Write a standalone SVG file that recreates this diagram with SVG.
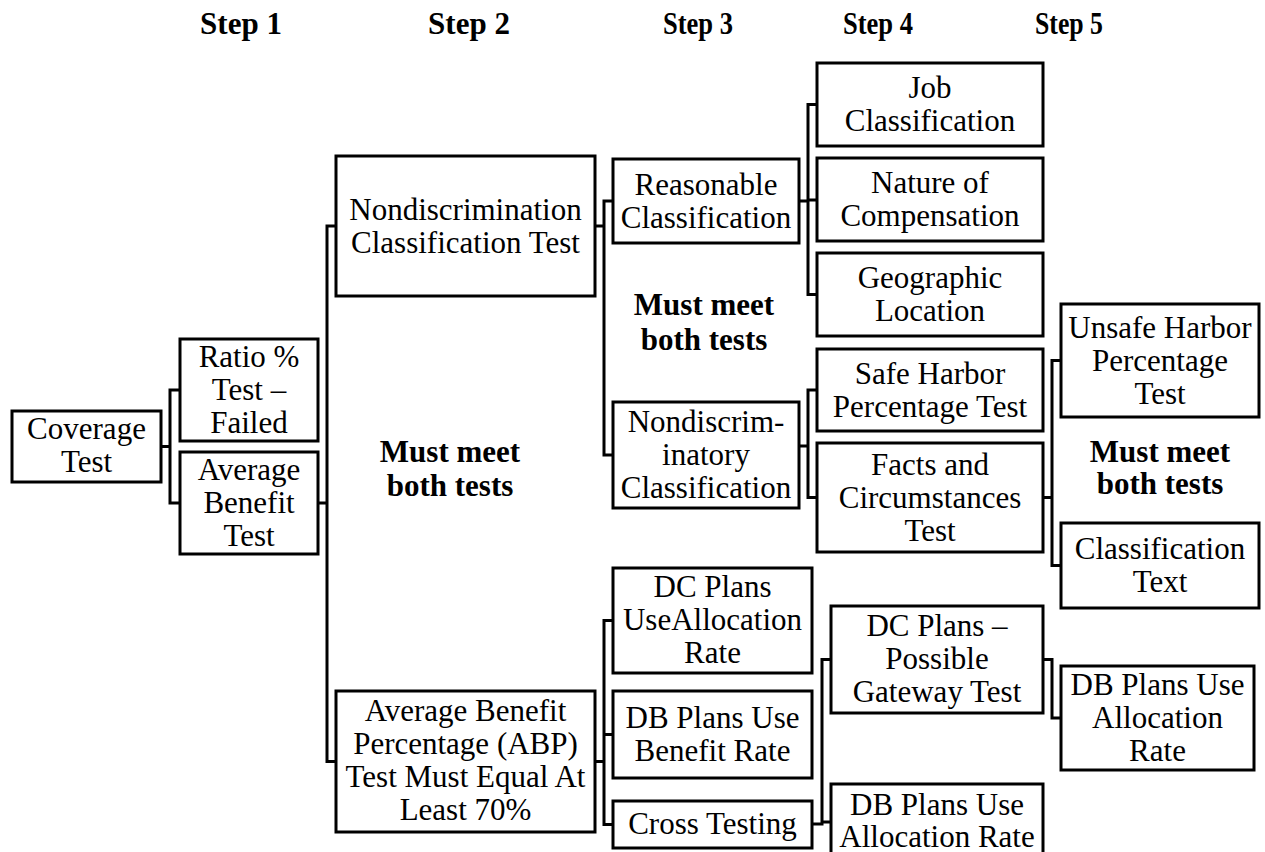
<svg xmlns="http://www.w3.org/2000/svg" width="1265" height="852" viewBox="0 0 1265 852">
  <style>
    .box { fill: #ffffff; stroke: #000000; stroke-width: 3; }
    .lbl { font-family: "Liberation Serif", "Times New Roman", serif; font-size: 31px; fill: #000000; text-anchor: middle; }
    .bold { font-family: "Liberation Serif", "Times New Roman", serif; font-size: 31px; font-weight: bold; fill: #000000; text-anchor: middle; }
    .wire { fill: none; stroke: #000000; stroke-width: 3; stroke-linejoin: miter; stroke-linecap: square; }
  </style>
  <rect width="1265" height="852" fill="#ffffff"/>

  <!-- column headings -->
  <g id="headings">
    <text class="bold" x="241" y="34">Step 1</text>
    <text class="bold" x="469" y="34">Step 2</text>
    <text class="bold" x="698" y="34" textLength="70" lengthAdjust="spacingAndGlyphs">Step 3</text>
    <text class="bold" x="878" y="34" textLength="70" lengthAdjust="spacingAndGlyphs">Step 4</text>
    <text class="bold" x="1069" y="34" textLength="68" lengthAdjust="spacingAndGlyphs">Step 5</text>
  </g>

  <!-- connectors (bracket style) -->
  <g id="connectors" class="wire">
    <path d="M161,446.5 H170 M180,390 H170 V503 H180"/>
    <path d="M318,503 H327 M336,226 H327 V761.5 H336"/>
    <path d="M595,226 H604 M613,201 H604 V455 H613"/>
    <path d="M799,201 H808 M817,104.5 H808 V294.5 H817 M808,200 H817"/>
    <path d="M799,446 H808 M817,390 H808 V497.5 H817"/>
    <path d="M1043,497.5 H1052 M1061,360.5 H1052 V565.5 H1061"/>
    <path d="M595,761.5 H604 M613,620.5 H604 V824.5 H613 M604,734.5 H613"/>
    <path d="M812,824 H822 M831,659.5 H822 V822 H831"/>
    <path d="M1043,659.5 H1052 V718 H1061"/>
  </g>

  <!-- Step 1 -->
  <g id="coverage-test">
    <rect class="box" x="12" y="411" width="149" height="71"/>
    <text class="lbl" x="86.5" y="439">Coverage</text>
    <text class="lbl" x="86.5" y="472">Test</text>
  </g>
  <g id="ratio-test">
    <rect class="box" x="180" y="339" width="138" height="102"/>
    <text class="lbl" x="249" y="367">Ratio %</text>
    <text class="lbl" x="249" y="400">Test –</text>
    <text class="lbl" x="249" y="433">Failed</text>
  </g>
  <g id="average-benefit-test">
    <rect class="box" x="180" y="452" width="138" height="102"/>
    <text class="lbl" x="249" y="480">Average</text>
    <text class="lbl" x="249" y="513">Benefit</text>
    <text class="lbl" x="249" y="546">Test</text>
  </g>

  <!-- Step 2 -->
  <g id="nondiscrimination-classification-test">
    <rect class="box" x="336" y="156" width="259" height="140"/>
    <text class="lbl" x="465.5" y="219.5">Nondiscrimination</text>
    <text class="lbl" x="465.5" y="252.5">Classification Test</text>
  </g>
  <g id="step2-note">
    <text class="bold" x="450" y="462">Must meet</text>
    <text class="bold" x="450" y="496">both tests</text>
  </g>
  <g id="abp-test">
    <rect class="box" x="336" y="691" width="259" height="141"/>
    <text class="lbl" x="465.5" y="721">Average Benefit</text>
    <text class="lbl" x="465.5" y="754">Percentage (ABP)</text>
    <text class="lbl" x="465.5" y="787">Test Must Equal At</text>
    <text class="lbl" x="465.5" y="820">Least 70%</text>
  </g>

  <!-- Step 3 -->
  <g id="reasonable-classification">
    <rect class="box" x="613" y="159" width="186" height="84"/>
    <text class="lbl" x="706" y="195">Reasonable</text>
    <text class="lbl" x="706" y="228">Classification</text>
  </g>
  <g id="step3-note">
    <text class="bold" x="704" y="315">Must meet</text>
    <text class="bold" x="704" y="350">both tests</text>
  </g>
  <g id="nondiscriminatory-classification">
    <rect class="box" x="613" y="402" width="186" height="106"/>
    <text class="lbl" x="706" y="432">Nondiscrim-</text>
    <text class="lbl" x="706" y="465">inatory</text>
    <text class="lbl" x="706" y="498">Classification</text>
  </g>
  <g id="dc-plans-allocation">
    <rect class="box" x="613" y="568" width="199" height="105"/>
    <text class="lbl" x="712.5" y="597">DC Plans</text>
    <text class="lbl" x="712.5" y="630">UseAllocation</text>
    <text class="lbl" x="712.5" y="663">Rate</text>
  </g>
  <g id="db-plans-benefit">
    <rect class="box" x="613" y="691" width="199" height="87"/>
    <text class="lbl" x="712.5" y="728">DB Plans Use</text>
    <text class="lbl" x="712.5" y="761">Benefit Rate</text>
  </g>
  <g id="cross-testing">
    <rect class="box" x="613" y="801" width="199" height="47"/>
    <text class="lbl" x="712.5" y="834">Cross Testing</text>
  </g>

  <!-- Step 4 -->
  <g id="job-classification">
    <rect class="box" x="817" y="63" width="226" height="83"/>
    <text class="lbl" x="930" y="98">Job</text>
    <text class="lbl" x="930" y="131">Classification</text>
  </g>
  <g id="nature-of-compensation">
    <rect class="box" x="817" y="158" width="226" height="83"/>
    <text class="lbl" x="930" y="193">Nature of</text>
    <text class="lbl" x="930" y="226">Compensation</text>
  </g>
  <g id="geographic-location">
    <rect class="box" x="817" y="253" width="226" height="83"/>
    <text class="lbl" x="930" y="288">Geographic</text>
    <text class="lbl" x="930" y="321">Location</text>
  </g>
  <g id="safe-harbor">
    <rect class="box" x="817" y="349" width="226" height="82"/>
    <text class="lbl" x="930" y="383.5">Safe Harbor</text>
    <text class="lbl" x="930" y="416.5">Percentage Test</text>
  </g>
  <g id="facts-and-circumstances">
    <rect class="box" x="817" y="443" width="226" height="109"/>
    <text class="lbl" x="930" y="475">Facts and</text>
    <text class="lbl" x="930" y="508">Circumstances</text>
    <text class="lbl" x="930" y="541">Test</text>
  </g>
  <g id="dc-plans-gateway">
    <rect class="box" x="831" y="606" width="212" height="107"/>
    <text class="lbl" x="937" y="636">DC Plans –</text>
    <text class="lbl" x="937" y="669">Possible</text>
    <text class="lbl" x="937" y="702">Gateway Test</text>
  </g>
  <g id="db-plans-allocation-lower">
    <rect class="box" x="831" y="784" width="212" height="80"/>
    <text class="lbl" x="937" y="815">DB Plans Use</text>
    <text class="lbl" x="937" y="847">Allocation Rate</text>
  </g>

  <!-- Step 5 -->
  <g id="unsafe-harbor">
    <rect class="box" x="1061" y="304" width="198" height="113"/>
    <text class="lbl" x="1160" y="337.5">Unsafe Harbor</text>
    <text class="lbl" x="1160" y="370.5">Percentage</text>
    <text class="lbl" x="1160" y="403.5">Test</text>
  </g>
  <g id="step5-note">
    <text class="bold" x="1160" y="462">Must meet</text>
    <text class="bold" x="1160" y="494">both tests</text>
  </g>
  <g id="classification-text">
    <rect class="box" x="1061" y="523" width="198" height="85"/>
    <text class="lbl" x="1160" y="559">Classification</text>
    <text class="lbl" x="1160" y="592">Text</text>
  </g>
  <g id="db-plans-allocation-right">
    <rect class="box" x="1061" y="666" width="193" height="104"/>
    <text class="lbl" x="1157.5" y="695">DB Plans Use</text>
    <text class="lbl" x="1157.5" y="728">Allocation</text>
    <text class="lbl" x="1157.5" y="761">Rate</text>
  </g>
</svg>
